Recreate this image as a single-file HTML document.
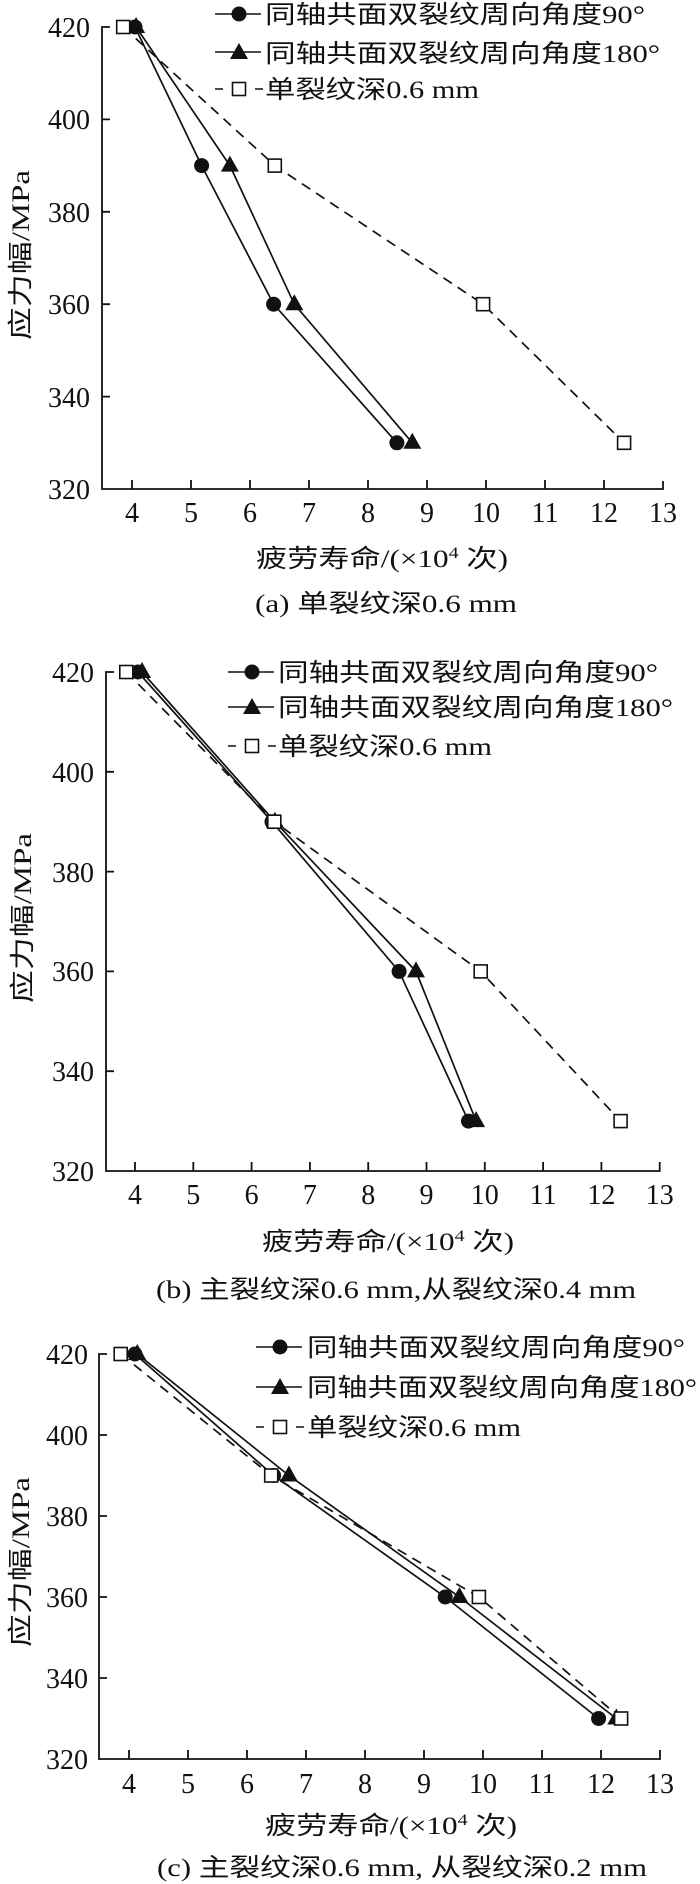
<!DOCTYPE html>
<html><head><meta charset="utf-8"><style>
html,body{margin:0;padding:0;background:#fff}
svg{display:block}
text{fill:#111}
.n{font-family:"Liberation Serif","Noto Serif CJK SC",serif;font-size:28px}
.c{font-family:"Liberation Serif","Noto Sans CJK SC",sans-serif;font-size:25px}
</style></head><body>
<svg width="700" height="1884" viewBox="0 0 700 1884" xmlns="http://www.w3.org/2000/svg">
<defs>
<symbol id="ci" overflow="visible"><circle cx="0" cy="0" r="7.5" fill="#111"/></symbol>
<symbol id="tr" overflow="visible"><path d="M0,-10 L-9,6 L9,6 Z" fill="#111"/></symbol>
<symbol id="sq" overflow="visible"><rect x="-6.5" y="-6.5" width="13" height="13" fill="#fff" stroke="#111" stroke-width="1.6"/></symbol>
</defs>
<g stroke="#111" fill="none" stroke-width="1.8">
<path d="M110,27 H102 V489 H663 V481"/>
<path d="M102,119.4h8M102,211.8h8M102,304.2h8M102,396.6h8"/>
<path d="M132,489v-9M191,489v-9M250,489v-9M309,489v-9M368,489v-9M427,489v-9M486,489v-9M545,489v-9M604,489v-9"/>
<path d="M114,672 H106 V1171 H659.7 V1162"/>
<path d="M106,771.8h8M106,871.6h8M106,971.4h8M106,1071.2h8"/>
<path d="M135,1171v-9M193.3,1171v-9M251.6,1171v-9M309.9,1171v-9M368.2,1171v-9M426.5,1171v-9M484.8,1171v-9M543.1,1171v-9M601.4,1171v-9"/>
<path d="M107,1354 H99 V1759 H660 V1750"/>
<path d="M99,1435h8M99,1516h8M99,1597h8M99,1678h8"/>
<path d="M129,1759v-9M188,1759v-9M247,1759v-9M306,1759v-9M365,1759v-9M424,1759v-9M483,1759v-9M542,1759v-9M601,1759v-9"/>
</g>
<g fill="none" stroke="#111" stroke-width="1.7">
<polyline points="135,27 201.6,165.6 273.6,304.2 396.9,442.8"/>
<polyline points="136.1,27 229.9,165.6 294.3,304.2 412.3,442.8"/>
<polyline stroke-dasharray="10,7" points="123.2,27 274.8,165.6 483.1,304.2 624.1,442.8"/>
<polyline points="137.9,672 272,821.7 399.1,971.4 468.5,1121.1"/>
<polyline points="142,672 274.9,821.7 416,971.4 476.1,1121.1"/>
<polyline stroke-dasharray="10,7" points="126.3,672 274.3,821.7 480.7,971.4 620.6,1121.1"/>
<polyline points="134.9,1354 273.6,1475.5 445.2,1597 598.6,1718.5"/>
<polyline points="137.3,1354 288.9,1475.5 459.4,1597 616.3,1718.5"/>
<polyline stroke-dasharray="10,7" points="120.7,1354 271.2,1475.5 478.9,1597 621.1,1718.5"/>
</g>
<g>
<use href="#ci" x="135" y="27"/><use href="#ci" x="201.6" y="165.6"/><use href="#ci" x="273.6" y="304.2"/><use href="#ci" x="396.9" y="442.8"/>
<use href="#tr" x="136.1" y="27"/><use href="#tr" x="229.9" y="165.6"/><use href="#tr" x="294.3" y="304.2"/><use href="#tr" x="412.3" y="442.8"/>
<use href="#sq" x="123.2" y="27"/><use href="#sq" x="274.8" y="165.6"/><use href="#sq" x="483.1" y="304.2"/><use href="#sq" x="624.1" y="442.8"/>

<use href="#ci" x="137.9" y="672"/><use href="#ci" x="272" y="821.7"/><use href="#ci" x="399.1" y="971.4"/><use href="#ci" x="468.5" y="1121.1"/>
<use href="#tr" x="142" y="672"/><use href="#tr" x="274.9" y="821.7"/><use href="#tr" x="416" y="971.4"/><use href="#tr" x="476.1" y="1121.1"/>
<use href="#sq" x="126.3" y="672"/><use href="#sq" x="274.3" y="821.7"/><use href="#sq" x="480.7" y="971.4"/><use href="#sq" x="620.6" y="1121.1"/>

<use href="#ci" x="134.9" y="1354"/><use href="#ci" x="273.6" y="1475.5"/><use href="#ci" x="445.2" y="1597"/><use href="#ci" x="598.6" y="1718.5"/>
<use href="#tr" x="137.3" y="1354"/><use href="#tr" x="288.9" y="1475.5"/><use href="#tr" x="459.4" y="1597"/><use href="#tr" x="616.3" y="1718.5"/>
<use href="#sq" x="120.7" y="1354"/><use href="#sq" x="271.2" y="1475.5"/><use href="#sq" x="478.9" y="1597"/><use href="#sq" x="621.1" y="1718.5"/>
</g>

<g stroke="#111" stroke-width="1.6" fill="none">
<path d="M215,14h46M215,52h46"/><path d="M215,89h8M255,89h8"/>
<path d="M228,672h46M228,707h46"/><path d="M228,746h8M268,746h8"/>
<path d="M256,1347h46M256,1387h46"/><path d="M256,1427h8M296,1427h8"/>
</g>
<use href="#ci" x="239" y="14"/><use href="#tr" x="239" y="53"/><use href="#sq" x="239" y="89"/>
<use href="#ci" x="252" y="672"/><use href="#tr" x="252" y="708"/><use href="#sq" x="252" y="746"/>
<use href="#ci" x="280" y="1347"/><use href="#tr" x="280" y="1388"/><use href="#sq" x="280" y="1427"/>
<g class="c">
<text x="265" y="23" textLength="380" lengthAdjust="spacingAndGlyphs">同轴共面双裂纹周向角度90°</text>
<text x="265" y="62" textLength="395" lengthAdjust="spacingAndGlyphs">同轴共面双裂纹周向角度180°</text>
<text x="265" y="98" textLength="214" lengthAdjust="spacingAndGlyphs">单裂纹深0.6 mm</text>
<text x="278" y="681" textLength="380" lengthAdjust="spacingAndGlyphs">同轴共面双裂纹周向角度90°</text>
<text x="278" y="716" textLength="395" lengthAdjust="spacingAndGlyphs">同轴共面双裂纹周向角度180°</text>
<text x="278" y="755" textLength="214" lengthAdjust="spacingAndGlyphs">单裂纹深0.6 mm</text>
<text x="307" y="1356" textLength="378" lengthAdjust="spacingAndGlyphs">同轴共面双裂纹周向角度90°</text>
<text x="307" y="1396" textLength="390" lengthAdjust="spacingAndGlyphs">同轴共面双裂纹周向角度180°</text>
<text x="307" y="1436" textLength="214" lengthAdjust="spacingAndGlyphs">单裂纹深0.6 mm</text>
</g>

<g class="n" text-anchor="end">
<text x="90" y="37">420</text><text x="90" y="129">400</text><text x="90" y="222">380</text><text x="90" y="314">360</text><text x="90" y="407">340</text><text x="90" y="499">320</text>
<text x="94" y="682">420</text><text x="94" y="782">400</text><text x="94" y="882">380</text><text x="94" y="981">360</text><text x="94" y="1081">340</text><text x="94" y="1181">320</text>
<text x="88" y="1364">420</text><text x="88" y="1445">400</text><text x="88" y="1526">380</text><text x="88" y="1607">360</text><text x="88" y="1688">340</text><text x="88" y="1769">320</text>
</g>
<g class="n" text-anchor="middle">
<text x="132" y="522">4</text><text x="191" y="522">5</text><text x="250" y="522">6</text><text x="309" y="522">7</text><text x="368" y="522">8</text><text x="427" y="522">9</text><text x="486" y="522">10</text><text x="545" y="522">11</text><text x="604" y="522">12</text><text x="663" y="522">13</text>
<text x="135" y="1204">4</text><text x="193.3" y="1204">5</text><text x="251.6" y="1204">6</text><text x="309.9" y="1204">7</text><text x="368.2" y="1204">8</text><text x="426.5" y="1204">9</text><text x="484.8" y="1204">10</text><text x="543.1" y="1204">11</text><text x="601.4" y="1204">12</text><text x="659.7" y="1204">13</text>
<text x="129" y="1793">4</text><text x="188" y="1793">5</text><text x="247" y="1793">6</text><text x="306" y="1793">7</text><text x="365" y="1793">8</text><text x="424" y="1793">9</text><text x="483" y="1793">10</text><text x="542" y="1793">11</text><text x="601" y="1793">12</text><text x="660" y="1793">13</text>
</g>
<g class="c" text-anchor="middle">
<text x="382" y="567" textLength="252" lengthAdjust="spacingAndGlyphs">疲劳寿命/(×10<tspan dy="-9" font-size="16">4</tspan><tspan dy="9"> 次)</tspan></text>
<text x="386" y="612" textLength="262" lengthAdjust="spacingAndGlyphs">(a) 单裂纹深0.6 mm</text>
<text x="388" y="1250" textLength="252" lengthAdjust="spacingAndGlyphs">疲劳寿命/(×10<tspan dy="-9" font-size="16">4</tspan><tspan dy="9"> 次)</tspan></text>
<text x="396" y="1298" textLength="480" lengthAdjust="spacingAndGlyphs">(b) 主裂纹深0.6 mm,从裂纹深0.4 mm</text>
<text x="391" y="1834" textLength="252" lengthAdjust="spacingAndGlyphs">疲劳寿命/(×10<tspan dy="-9" font-size="16">4</tspan><tspan dy="9"> 次)</tspan></text>
<text x="402" y="1876" textLength="490" lengthAdjust="spacingAndGlyphs">(c) 主裂纹深0.6 mm, 从裂纹深0.2 mm</text>
<text transform="translate(29,255) rotate(-90)" textLength="170" lengthAdjust="spacingAndGlyphs">应力幅/MPa</text>
<text transform="translate(31,918) rotate(-90)" textLength="170" lengthAdjust="spacingAndGlyphs">应力幅/MPa</text>
<text transform="translate(29,1562) rotate(-90)" textLength="170" lengthAdjust="spacingAndGlyphs">应力幅/MPa</text>
</g>
</svg>
</body></html>
